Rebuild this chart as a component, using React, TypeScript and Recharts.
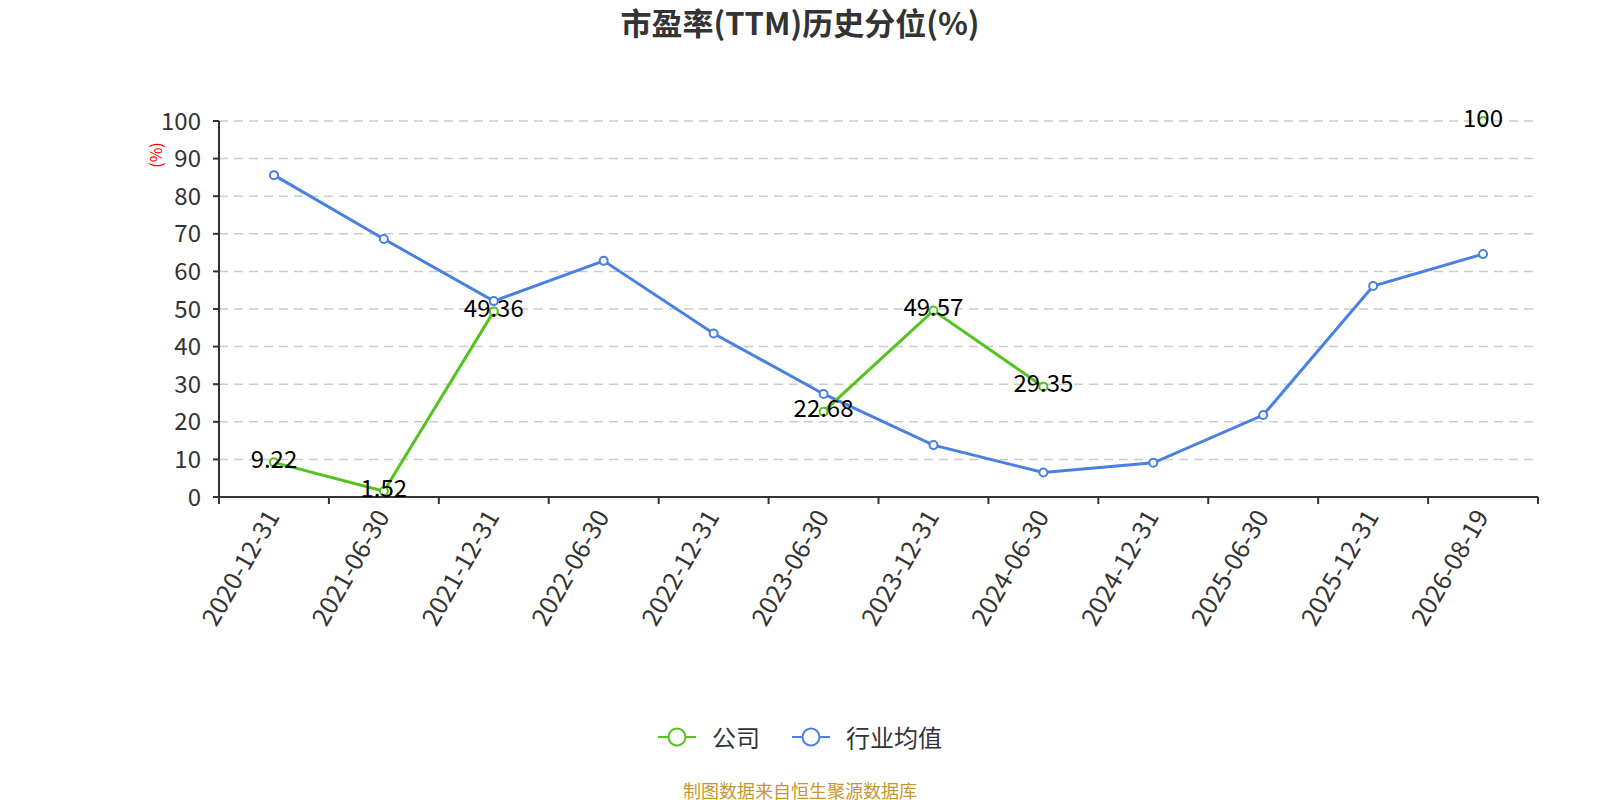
import React from 'react';
import { LineChart, Line, XAxis, YAxis, CartesianGrid, LabelList } from 'recharts';

const categories = [
  '2020-12-31', '2021-06-30', '2021-12-31', '2022-06-30', '2022-12-31', '2023-06-30',
  '2023-12-31', '2024-06-30', '2024-12-31', '2025-06-30', '2025-12-31', '2026-08-19',
];
const companyValues: (number | null)[] = [9.22, 1.52, 49.36, null, null, 22.68, 49.57, 29.35, null, null, null, 100];
const industryValues: number[] = [85.6, 68.6, 52.1, 62.8, 43.5, 27.4, 13.8, 6.5, 9.1, 21.8, 56.1, 64.6];
const yTicks = [0, 10, 20, 30, 40, 50, 60, 70, 80, 90, 100];
const seriesNames = { company: '公司', industry: '行业均值' };

const data = categories.map((date, i) => ({
  date,
  company: companyValues[i],
  industry: industryValues[i],
}));

const GREEN = '#55c21f';
const BLUE = '#4a80e2';
const FONT = '"Noto Sans CJK SC", "Noto Sans", sans-serif';

const W = 1600;
const H = 800;
const MARGIN = { top: 121, right: 62, bottom: 203, left: 159 };
const Y_AXIS_W = 60;
const X_AXIS_H = 100;
const FALLBACK_HALF = (W - MARGIN.left - Y_AXIS_W - MARGIN.right) / categories.length / 2;

const XTick = (props: any) => {
  const { x, y, payload, index } = props;
  const half = payload && typeof payload.offset === 'number' && payload.offset > 0 ? payload.offset : FALLBACK_HALF;
  const lx = x - 3;
  const ly = y + 14;
  return (
    <g>
      <line x1={x - half} y1={y} x2={x - half} y2={y + 7} stroke="#333" strokeWidth={2} />
      {index === categories.length - 1 && (
        <line x1={x + half} y1={y} x2={x + half} y2={y + 7} stroke="#333" strokeWidth={2} />
      )}
      <text
        x={lx}
        y={ly}
        textAnchor="end"
        dominantBaseline="central"
        transform={`rotate(-60 ${lx} ${ly})`}
        fill="#333"
        fontSize={25}
        fontFamily={FONT}
      >
        {payload.value}
      </text>
    </g>
  );
};

const renderLabel = (props: any) => {
  const { x, y, value } = props;
  if (value === null || value === undefined) return null;
  return (
    <text x={x} y={y - 5} textAnchor="middle" dominantBaseline="central" fill="#000" fontSize={24} fontFamily={FONT}>
      {value}
    </text>
  );
};

const LegendItem = ({ color, name, gap }: { color: string; name: string; gap: number }) => (
  <div style={{ display: 'flex', alignItems: 'center', marginRight: gap }}>
    <svg width={38} height={22} style={{ marginRight: 16 }}>
      <line x1={0} y1={11} x2={38} y2={11} stroke={color} strokeWidth={2} />
      <circle cx={19} cy={11} r={8.5} fill="#fff" stroke={color} strokeWidth={2} />
    </svg>
    <span style={{ fontSize: 24, color: '#333', lineHeight: '30px' }}>{name}</span>
  </div>
);

export default function App() {
  return (
    <div style={{ position: 'absolute', left: 0, top: 0, width: W, height: H, background: '#fff', fontFamily: FONT }}>
      <div
        style={{
          position: 'absolute', left: 0, top: 2, width: W, textAlign: 'center',
          fontSize: 31, fontWeight: 'bold', color: '#333', lineHeight: '40px',
        }}
      >
        市盈率(TTM)历史分位(%)
      </div>
      <div
        style={{
          position: 'absolute', left: 135, top: 143, width: 40, height: 24, textAlign: 'center',
          fontSize: 16, color: 'red', lineHeight: '24px', transform: 'rotate(-90deg)',
        }}
      >
        (%)
      </div>
      <LineChart width={W} height={H} data={data} margin={MARGIN}>
        <CartesianGrid vertical={false} stroke="#ccc" strokeWidth={1.5} strokeDasharray="9 6" />
        <XAxis
          dataKey="date"
          scale="band"
          interval={0}
          height={X_AXIS_H}
          tickSize={0}
          tickMargin={0}
          tickLine={false}
          axisLine={{ stroke: '#333', strokeWidth: 2 }}
          tick={<XTick />}
        />
        <YAxis
          domain={[0, 100]}
          ticks={yTicks}
          interval={0}
          width={Y_AXIS_W}
          tickSize={6}
          tickMargin={12}
          axisLine={{ stroke: '#333', strokeWidth: 2 }}
          tickLine={{ stroke: '#333', strokeWidth: 2 }}
          tick={{ fill: '#333', fontSize: 24, fontFamily: FONT }}
        />
        <Line
          dataKey="industry"
          name={seriesNames.industry}
          stroke={BLUE}
          strokeWidth={3}
          dot={{ r: 4, fill: '#fff', stroke: BLUE, strokeWidth: 2 }}
          activeDot={false}
          isAnimationActive={false}
        />
        <Line
          dataKey="company"
          name={seriesNames.company}
          stroke={GREEN}
          strokeWidth={3}
          dot={{ r: 4, fill: '#fff', stroke: GREEN, strokeWidth: 2 }}
          activeDot={false}
          isAnimationActive={false}
        >
          <LabelList dataKey="company" content={renderLabel} />
        </Line>
      </LineChart>
      <div
        style={{
          position: 'absolute', left: 0, top: 722, width: W, display: 'flex', justifyContent: 'center',
        }}
      >
        <LegendItem color={GREEN} name={seriesNames.company} gap={32} />
        <LegendItem color={BLUE} name={seriesNames.industry} gap={0} />
      </div>
      <div
        style={{
          position: 'absolute', left: 0, top: 778, width: W, textAlign: 'center',
          fontSize: 18, color: '#c8962e', lineHeight: '24px',
        }}
      >
        制图数据来自恒生聚源数据库
      </div>
    </div>
  );
}
